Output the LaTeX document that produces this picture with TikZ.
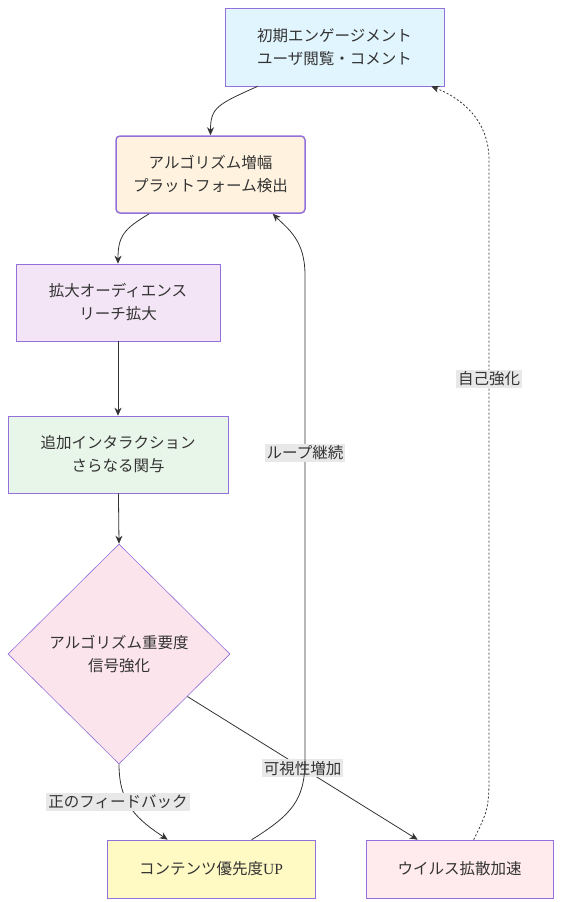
\documentclass[tikz,border=0pt]{standalone}
\usepackage{fontspec}
\newfontfamily\jp{Noto Sans CJK JP}
\newfontfamily\upfont{Liberation Serif}
\usetikzlibrary{shapes.geometric,arrows.meta,calc}
\definecolor{lineC}{HTML}{333333}
\definecolor{borderC}{HTML}{9370DB}
\definecolor{labelbg}{HTML}{E8E8E8}
\definecolor{cA}{HTML}{E1F5FE}
\definecolor{cB}{HTML}{FFF3E0}
\definecolor{cC}{HTML}{F3E5F5}
\definecolor{cD}{HTML}{E8F5E9}
\definecolor{cE}{HTML}{FCE4EC}
\definecolor{cF}{HTML}{FFF9C4}
\definecolor{cG}{HTML}{FFEBEE}
\tikzset{
  every node/.style={text=lineC, font=\jp\fontsize{15.5}{23}\selectfont},
  box/.style={draw=borderC, line width=0.6pt, align=center, inner sep=0pt},
  conn/.style={draw=lineC, line width=0.8pt, -{Stealth[length=8pt,width=7pt]}},
  elabel/.style={fill=labelbg, inner sep=2pt, align=center},
}
\begin{document}
\begin{tikzpicture}[x=1pt,y=-1pt]
\useasboundingbox (0,0) rectangle (561,902);
\node[box, fill=cA, minimum width=219pt, minimum height=78pt] (n1) at (334.5,47) {初期エンゲージメント\\ユーザ閲覧・コメント};
\node[box, fill=cB, draw=borderC, line width=1.5pt, rounded corners=4pt, minimum width=189pt, minimum height=77pt] (n2) at (210.5,174.5) {アルゴリズム増幅\\プラットフォーム検出};
\node[box, fill=cC, minimum width=204pt, minimum height=77pt] (n3) at (118,302.5) {拡大オーディエンス\\リーチ拡大};
\node[box, fill=cD, minimum width=220pt, minimum height=77pt] (n4) at (118,454.5) {追加インタラクション\\さらなる関与};
\node[box, diamond, fill=cE, minimum width=222pt, minimum height=220pt] (n5) at (119,654) {アルゴリズム重要度\\信号強化};
\node[box, fill=cF, minimum width=208pt, minimum height=58pt] (n6) at (211,869) {コンテンツ優先度{\upfont UP}};
\node[box, fill=cG, minimum width=187pt, minimum height=58pt] (n7) at (459.5,869) {ウイルス拡散加速};

\coordinate (p1s) at ([xshift=33pt]n1.south west);
\coordinate (p2s) at ([xshift=34pt]n2.south west);
\coordinate (p2in) at ([xshift=-33pt]n2.south east);
\coordinate (p1in) at ([xshift=-13pt]n1.south east);
\coordinate (p6in) at ([xshift=61pt]n6.north west);
\coordinate (p6out) at ([xshift=145pt]n6.north west);
\coordinate (p7in) at ([xshift=52pt]n7.north west);
\coordinate (p7out) at ([xshift=108pt]n7.north west);

\draw[conn] (p1s) .. controls +(-40,18) and +(0,-28) .. (n2.north);
\draw[conn] (p2s) .. controls +(-25,15) and +(0,-28) .. (n3.north);
\draw[conn] (n3) -- (n4);
\draw[conn] (n4) -- (n5.north);
\draw[conn] (n5.south) .. controls +(0,40) and +(-30,-20) .. (p6in);
\draw[conn] (n5) -- node[elabel] {可視性増加} (p7in);
\draw[conn] (p6out) .. controls +(40,-25) and +(0,40) .. (305,760) -- (305,275) .. controls +(0,-35) and +(15,15) .. (p2in);
\draw[conn, dash pattern=on 2pt off 2pt] (p7out) .. controls +(12,-25) and +(0,30) .. (489,780) -- (489,160) .. controls +(0,-40) and +(30,12) .. (p1in);

\node[elabel] (l1) at (118,802) {正のフィードバック};
\node[elabel] (l2) at (305,453) {ループ継続};
\node[elabel] (l3) at (489,379) {自己強化};
\end{tikzpicture}
\end{document}
